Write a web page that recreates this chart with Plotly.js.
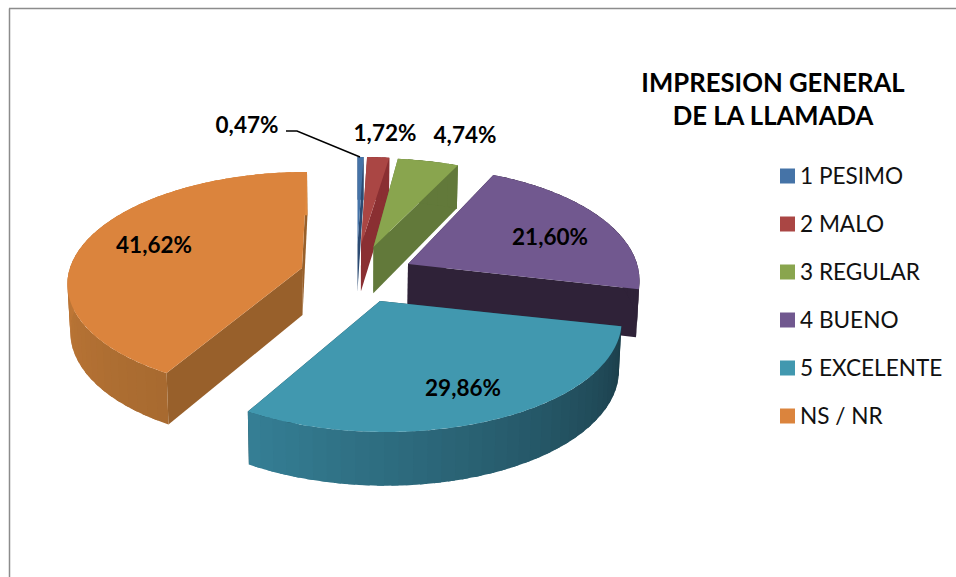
<!DOCTYPE html>
<html>
<head>
<meta charset="utf-8">
<script src="https://cdn.plot.ly/plotly-3.0.1.min.js"></script>
<style>html,body{margin:0;padding:0;background:#fff;overflow:hidden}#c{width:956px;height:577px}</style>
</head>
<body>
<div id="c"></div>
<script>
// ---- data ----
const categories = ["1 PESIMO", "2 MALO", "3 REGULAR", "4 BUENO", "5 EXCELENTE", "NS / NR"];
const percents = [0.47, 1.72, 4.74, 21.60, 29.86, 41.62];
const titleLines = ["IMPRESION GENERAL", "DE LA LLAMADA"];

// ---- styles ----
const topColors = ["#4573a7", "#aa4644", "#89a54e", "#71588f", "#4198af", "#db843d"];
const radialWall = ["#2b4a72", "#8a2f32", "#62793a", "#2f2238", "#1d414d", "#98602b"];
const arcWallStart = ["#2b4a72", "#8a2f32", "#62793a", "#2f2238", "#1b3d49", "#a76a30"];
const arcWallEnd = ["#2b4a72", "#8a2f32", "#62793a", "#2f2238", "#357f95", "#e08a40"];

// perspective projection of each exploded slice
const geom = [
  {ax: 357.5, ay: 245, rx: 236, ru: 88, rd: 118, sk: 0},
  {ax: 361, ay: 245, rx: 236, ru: 88, rd: 118, sk: 0},
  {ax: 373.5, ay: 247, rx: 236, ru: 89, rd: 119, sk: -4},
  {ax: 408, ay: 264, rx: 229, ru: 97, rd: 130, sk: 0},
  {ax: 380, ay: 301, rx: 238, ru: 97, rd: 131, sk: -6},
  {ax: 302, ay: 268, rx: 232, ru: 96, rd: 124, sk: 5}
];
const labelPos = [[247, 127], [385, 135], [465, 137], [550, 239], [463, 390], [154, 247]];
const legendX = 787.5, legendTextX = 800, legendY0 = 176, legendStep = 48;
const leaderX = [286, 297, 360], leaderY = [131, 131, 157];

const rad = d => d * Math.PI / 180;
function pt(g, deg) {
  const s = Math.sin(rad(deg)), c = Math.cos(rad(deg));
  const q = (g.rd - g.ru) / (g.rd + g.ru), r = 2 * g.ru * g.rd / (g.ru + g.rd), w = 1 + q * c;
  return [g.ax + g.rx * s / w + g.sk * c, g.ay - r * c / w];
}
function low(p) {
  return [p[0] + (355 - p[0]) * 0.01, p[1] + 43 + (p[1] - 165) * 0.04];
}
function hex(a, b, t) {
  const f = (h, i) => parseInt(h.substr(1 + 2 * i, 2), 16);
  const m = [0, 1, 2].map(i => Math.round(f(a, i) + (f(b, i) - f(a, i)) * t));
  return "rgb(" + m.join(",") + ")";
}
function poly(pts, color) {
  return {
    type: "scatter", mode: "none", x: pts.map(p => p[0]), y: pts.map(p => p[1]),
    fill: "toself", fillcolor: color, hoverinfo: "skip", showlegend: false
  };
}

const total = percents.reduce((a, b) => a + b, 0);
const traces = [];
let start = 0;
percents.forEach((v, i) => {
  const g = geom[i], sweep = v / total * 360, end = start + sweep;
  const apex = [g.ax, g.ay];
  // straight cut walls
  [start, end].forEach(a => {
    const e = pt(g, a);
    traces.push(poly([apex, e, low(e), low(apex)], radialWall[i]));
  });
  // outer wall, in overlapping shaded bands
  const bands = Math.max(1, Math.ceil(sweep / 3));
  for (let b = 0; b < bands; b++) {
    const a0 = start + sweep * b / bands, a1 = Math.min(end, start + sweep * (b + 1.5) / bands);
    const upper = [], n = 4;
    for (let k = 0; k <= n; k++) upper.push(pt(g, a0 + (a1 - a0) * k / n));
    const lower = upper.map(low).reverse();
    traces.push(poly(upper.concat(lower), hex(arcWallStart[i], arcWallEnd[i], (b + 0.5) / bands)));
  }
  // top face
  const face = [apex], steps = Math.max(4, Math.ceil(sweep));
  for (let k = 0; k <= steps; k++) face.push(pt(g, start + sweep * k / steps));
  face.push(apex);
  traces.push(poly(face, topColors[i]));
  start = end;
});

const fmt = v => v.toFixed(2).replace(".", ",") + "%";

// leader line for the smallest slice
traces.push({type: "scatter", mode: "lines", x: leaderX, y: leaderY,
  line: {color: "#000", width: 1.4}, hoverinfo: "skip", showlegend: false});

// data labels
traces.push({type: "scatter", mode: "text", x: labelPos.map(p => p[0]), y: labelPos.map(p => p[1]),
  text: percents.map(fmt), textposition: "middle center",
  textfont: {family: "Lato, sans-serif", size: 22.5, color: "#000", weight: 700},
  hoverinfo: "skip", showlegend: false});

// legend column
traces.push({type: "scatter", mode: "markers",
  x: categories.map(() => legendX), y: categories.map((c, i) => legendY0 + i * legendStep),
  marker: {symbol: "square", size: 15, color: topColors},
  hoverinfo: "skip", showlegend: false});
traces.push({type: "scatter", mode: "text",
  x: categories.map(() => legendTextX), y: categories.map((c, i) => legendY0 + 2.5 + i * legendStep),
  text: categories, textposition: "middle right",
  textfont: {family: "Lato, sans-serif", size: 22.6, color: "#111"},
  hoverinfo: "skip", showlegend: false});

const layout = {
  width: 956, height: 577, margin: {l: 0, r: 0, t: 0, b: 0},
  paper_bgcolor: "#fff", plot_bgcolor: "#fff", showlegend: false,
  xaxis: {range: [0, 956], visible: false, fixedrange: true},
  yaxis: {range: [577, 0], visible: false, fixedrange: true},
  title: {text: titleLines.join("<br>"), x: 773 / 956, xanchor: "center", y: 1 - 92 / 577, yanchor: "top",
    font: {family: "Lato, sans-serif", size: 25.7, color: "#000", weight: 700}},
  shapes: [
    {type: "line", xref: "x", yref: "y", x0: 9.5, x1: 9.5, y0: 8.5, y1: 577, line: {color: "#8c8c8c", width: 1.5}},
    {type: "line", xref: "x", yref: "y", x0: 9, x1: 956, y0: 8.5, y1: 8.5, line: {color: "#8c8c8c", width: 1.5}}
  ]
};
Plotly.newPlot("c", traces, layout, {displayModeBar: false, staticPlot: true});
</script>
</body>
</html>
